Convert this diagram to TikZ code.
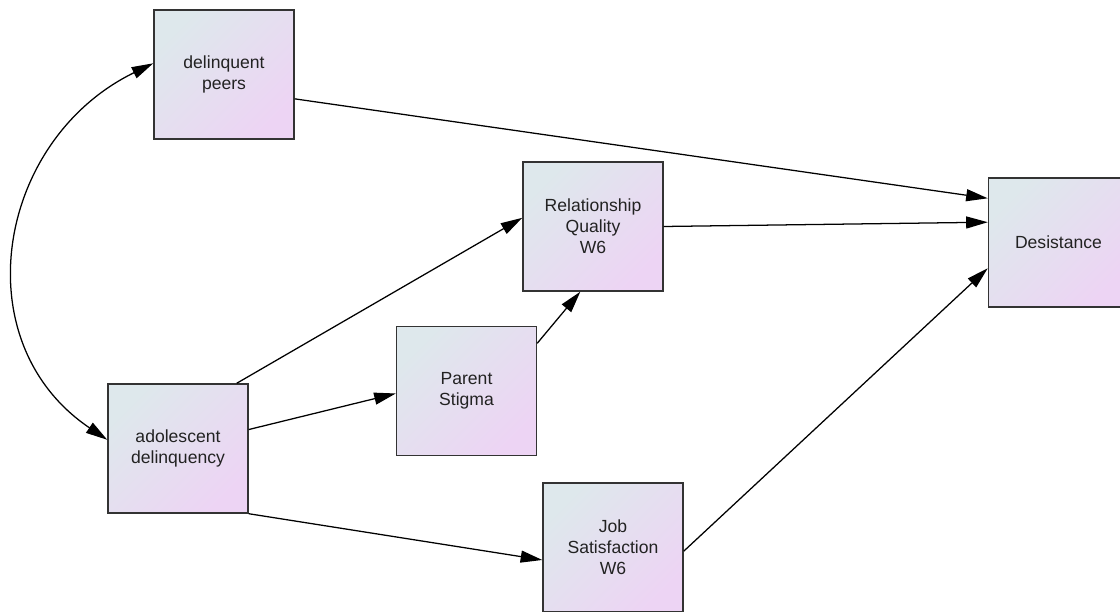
\documentclass[tikz,border=0pt]{standalone}
\usepackage{fontspec}
\setmainfont{Liberation Sans}
\usepackage{tikz}
\usetikzlibrary{arrows.meta}
\definecolor{boxTop}{RGB}{222,232,236}
\definecolor{boxBottom}{RGB}{237,212,244}
\definecolor{textGray}{RGB}{34,34,34}

\begin{document}
\begin{tikzpicture}[
  x=0.025cm, y=0.025cm,
  obs/.style={draw=black!80,line width=1pt,minimum width=3.5cm,minimum height=3.225cm,
    align=center,font=\fontsize{12.5}{15}\selectfont,text=textGray,
    top color=boxTop,bottom color=boxBottom,shading angle=45},
  arrow/.style={-{Triangle[length=5.4mm,width=3mm]},line width=0.9pt,draw=black}
]
\useasboundingbox (0,0) rectangle (1120,612);
\clip (0,0) rectangle (1120,612);
\node[obs] (peers) at (224,537.5) {delinquent\\peers};
\node[obs] (relq) at (593,385.5) {Relationship\\Quality\\W6};
\node[obs] (desist) at (1058.5,369.5) {Desistance};
\node[obs] (stigma) at (466.5,221) {Parent\\Stigma};
\node[obs] (adol) at (178,163.5) {adolescent\\delinquency};
\node[obs] (jobsat) at (613,64.5) {Job\\Satisfaction\\W6};
% paths
\draw[arrow] (peers.-19) -- (desist.148);
\draw[arrow] (relq.east) -- (desist.164);
\draw[arrow] (jobsat.-3) -- (desist.200);
\draw[arrow] (adol.48) -- (relq.173);
\draw[arrow] (adol.15) -- (stigma.182);
\draw[arrow] (adol.south east) -- (jobsat.190);
\draw[arrow] (stigma.34) -- (relq.259);
% covariance
\draw[arrow,{Triangle[length=5.4mm,width=3mm]}-{Triangle[length=5.4mm,width=3mm]}]
  (peers.171) to[out=206,in=146,looseness=1.18] (adol.173);
\end{tikzpicture}
\end{document}
